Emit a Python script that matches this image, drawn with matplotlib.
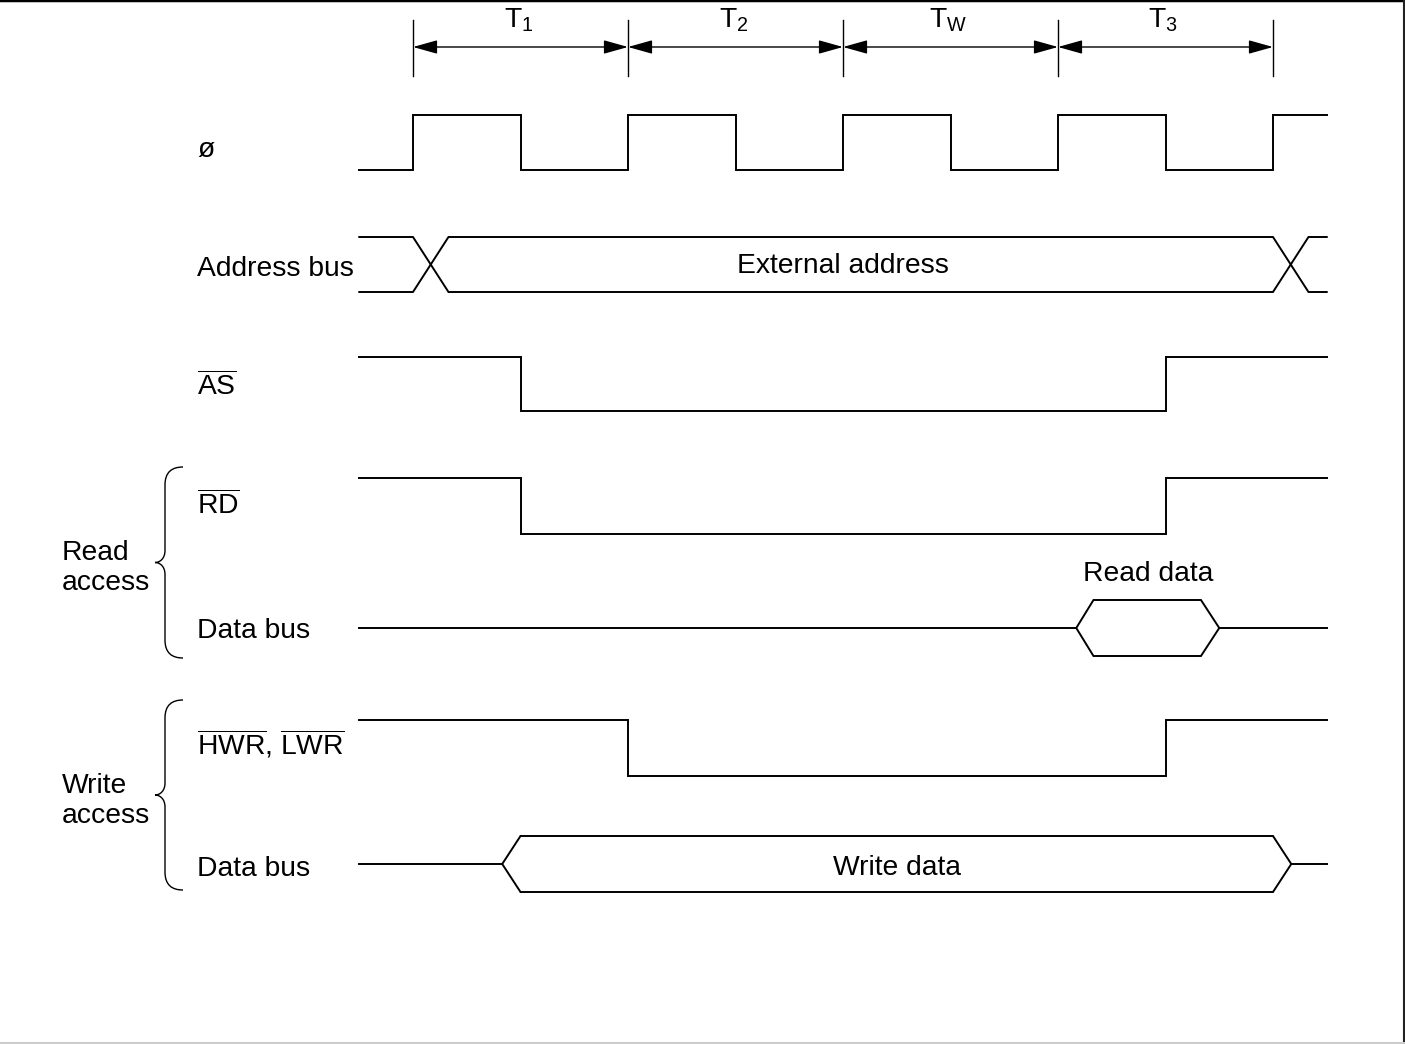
import matplotlib
matplotlib.use('Agg')
import matplotlib.pyplot as plt
from matplotlib.patches import FancyArrowPatch, ArrowStyle, PathPatch, Polygon
from matplotlib.path import Path
from matplotlib.lines import Line2D

plt.rcParams['font.family'] = ['Liberation Sans', 'DejaVu Sans']
plt.rcParams['mathtext.fontset'] = 'custom'
plt.rcParams['mathtext.rm'] = 'Liberation Sans'
plt.rcParams['mathtext.it'] = 'Liberation Sans:italic'
plt.rcParams['mathtext.bf'] = 'Liberation Sans:bold'

# ---------------- data (time axis in half clock cycles) ----------------
period_names = [r'$\mathrm{T}_1$', r'$\mathrm{T}_2$', r'$\mathrm{T}_\mathrm{W}$', r'$\mathrm{T}_3$']
period_bounds = [0, 2, 4, 6, 8]
signal_span = [-0.5, 8.5]

clock_times = [-0.5, 0, 1, 2, 3, 4, 5, 6, 7, 8, 8.5]
clock_levels = [0, 1, 0, 1, 0, 1, 0, 1, 0, 1, 1]

as_times = [-0.5, 1, 7, 8.5]
as_levels = [1, 0, 1, 1]
rd_times = [-0.5, 1, 7, 8.5]
rd_levels = [1, 0, 1, 1]
wr_times = [-0.5, 2, 7, 8.5]
wr_levels = [1, 0, 1, 1]

addr_changes = [0, 8]
addr_cross_width = 0.33
read_data_window = [6.17, 6.33, 7.33, 7.5]
write_data_window = [0.83, 1.0, 8.0, 8.17]

signal_labels = ['ø', 'Address bus', r'$\overline{\mathrm{AS}}$', r'$\overline{\mathrm{RD}}$',
                 'Data bus', r'$\overline{\mathrm{HWR}}$, $\overline{\mathrm{LWR}}$', 'Data bus']
group_labels = ['Read\naccess', 'Write\naccess']
bus_texts = ['External address', 'Read data', 'Write data']

# ---------------- layout ----------------
W, H = 1405, 1044
X0, HALF = 413.0, 107.5          # pixel of t=0 and pixels per half cycle
def px(x):
    return (x - X0) / HALF

lanes = {'clk': (115, 170), 'addr': (237, 292), 'as': (357, 411), 'rd': (478, 534),
         'rdata': (600, 656), 'wr': (720, 776), 'wdata': (836, 892)}
label_y = [150, 269, 386, 505, 631, 744, 869]
LW = 1.4
col = 'black'

fig = plt.figure(figsize=(W / 100, H / 100), dpi=100)
ax = fig.add_axes([0, 0, 1, 1])
ax.set_xlim(px(0), px(W))
ax.set_ylim(H, 0)
ax.axis('off')

def step(times, levels, lane):
    hi, lo = lanes[lane]
    ys = [hi if l else lo for l in levels]
    ax.plot(times, ys, drawstyle='steps-post', color=col, lw=LW, solid_joinstyle='miter')

step(clock_times, clock_levels, 'clk')
step(as_times, as_levels, 'as')
step(rd_times, rd_levels, 'rd')
step(wr_times, wr_levels, 'wr')

# address bus with crossings
top, bot = lanes['addr']
for start_level in (top, bot):
    xs = [signal_span[0]]
    ys = [start_level]
    cur = start_level
    for c in addr_changes:
        nxt = bot if cur == top else top
        xs += [c, c + addr_cross_width]
        ys += [cur, nxt]
        cur = nxt
    xs.append(signal_span[1])
    ys.append(cur)
    ax.plot(xs, ys, color=col, lw=LW)

def hexbus(window, lane):
    t, b = lanes[lane]
    m = (t + b) / 2
    a, b1, c, d = window
    ax.plot([signal_span[0], a], [m, m], color=col, lw=LW)
    ax.plot([d, signal_span[1]], [m, m], color=col, lw=LW)
    ax.add_patch(Polygon([(a, m), (b1, t), (c, t), (d, m), (c, b), (b1, b)], closed=True,
                         fill=False, edgecolor=col, lw=LW, joinstyle='miter'))

hexbus(read_data_window, 'rdata')
hexbus(write_data_window, 'wdata')

# bus texts
FS = 20.3
ax.text(4.0, 266, bus_texts[0], fontsize=FS, ha='center', va='center')
ax.text(sum(read_data_window[::3]) / 2, 574, bus_texts[1], fontsize=FS, ha='center', va='center')
ax.text(sum(write_data_window[::3]) / 2, 868, bus_texts[2], fontsize=FS, ha='center', va='center')

# signal labels
for lab, y in zip(signal_labels, label_y):
    ax.text(px(197), y, lab, fontsize=FS, ha='left', va='center')

# group labels and braces
groups = [(467, 658), (700, 890)]
for lab, (y0, y1) in zip(group_labels, groups):
    ym = (y0 + y1) / 2
    ax.text(px(62), ym + 6, lab, fontsize=FS, ha='left', va='center', linespacing=1.2)
    xr, xv, xt = px(183), px(165), px(155)
    verts = [(xr, y0), (px(172), y0), (xv, y0 + 5), (xv, y0 + 18),
             (xv, ym - 12),
             (xv, ym - 4), (px(160), ym), (xt, ym),
             (px(160), ym), (xv, ym + 4), (xv, ym + 12),
             (xv, y1 - 18),
             (xv, y1 - 5), (px(172), y1), (xr, y1)]
    codes = [Path.MOVETO, Path.CURVE4, Path.CURVE4, Path.CURVE4,
             Path.LINETO,
             Path.CURVE4, Path.CURVE4, Path.CURVE4,
             Path.CURVE4, Path.CURVE4, Path.CURVE4,
             Path.LINETO,
             Path.CURVE4, Path.CURVE4, Path.CURVE4]
    ax.add_patch(PathPatch(Path(verts, codes), fill=False, edgecolor=col, lw=1.0))

# period markers
for b in period_bounds:
    ax.plot([b, b], [20, 76], color=col, lw=1.0)
style = ArrowStyle('<|-|>', head_length=1.0, head_width=0.28)
for name, a, b in zip(period_names, period_bounds[:-1], period_bounds[1:]):
    ax.add_patch(FancyArrowPatch((a, 47), (b, 47), arrowstyle=style, mutation_scale=15,
                                 shrinkA=0, shrinkB=0, color=col, lw=1.0))
    ax.text((a + b) / 2 - 0.02, 20, name, fontsize=FS, ha='center', va='center')

# frame
fig.add_artist(Line2D([0, 1], [1, 1], transform=fig.transFigure, color='black', lw=2.5))
fig.add_artist(Line2D([0.9995, 0.9995], [0, 1], transform=fig.transFigure, color='#222222', lw=1.5))
fig.add_artist(Line2D([0, 1], [0.0005, 0.0005], transform=fig.transFigure, color='#cccccc', lw=1.5))

fig.savefig('out.png', dpi=100)
